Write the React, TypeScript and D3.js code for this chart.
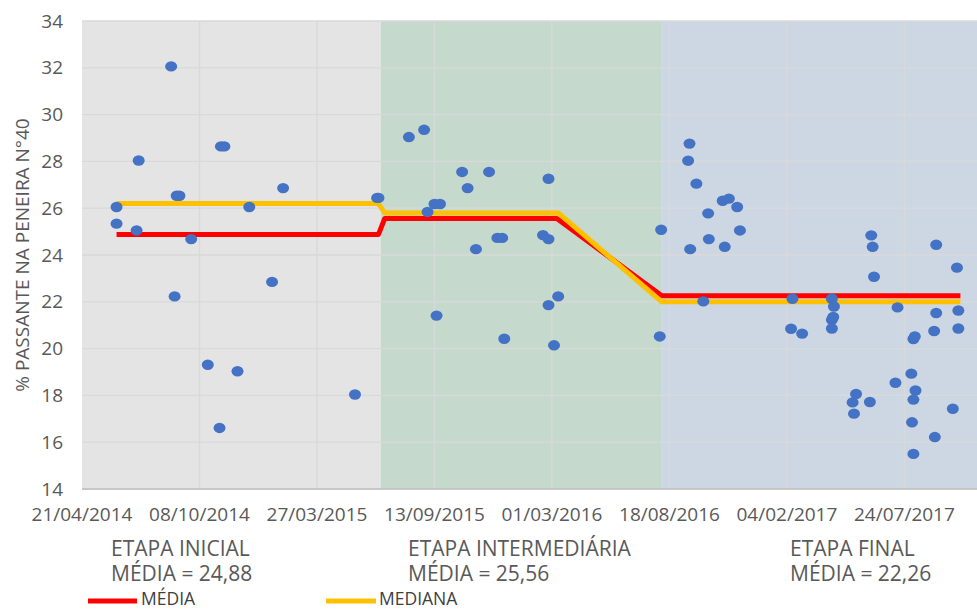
import * as d3 from 'd3';

// chart data
const tickLabels = ['21/04/2014', '08/10/2014', '27/03/2015', '13/09/2015', '01/03/2016', '18/08/2016', '04/02/2017', '24/07/2017'];
const yTicks = [14, 16, 18, 20, 22, 24, 26, 28, 30, 32, 34];

const pointDates = [
  '2014-06-10', '2014-06-10', '2014-07-09', '2014-07-12', '2014-08-28', '2014-09-02', '2014-09-05', '2014-09-09',
  '2014-09-26', '2014-10-20', '2014-11-06', '2014-11-08', '2014-11-13', '2014-12-02', '2014-12-19', '2015-01-21',
  '2015-02-06', '2015-05-21', '2015-06-22', '2015-06-24',
  '2015-08-07', '2015-08-29', '2015-09-03', '2015-09-13', '2015-09-16', '2015-09-21', '2015-10-23', '2015-10-31',
  '2015-11-12', '2015-12-01', '2015-12-13', '2015-12-20', '2015-12-23', '2016-02-17', '2016-02-25', '2016-02-25',
  '2016-02-25', '2016-03-04', '2016-03-10', '2016-08-04', '2016-08-06',
  '2016-09-14', '2016-09-16', '2016-09-17', '2016-09-26', '2016-10-06', '2016-10-13', '2016-10-14', '2016-11-03',
  '2016-11-06', '2016-11-12', '2016-11-24', '2016-11-28', '2017-02-10', '2017-02-12', '2017-02-26', '2017-04-10',
  '2017-04-10', '2017-04-10', '2017-04-12', '2017-04-13', '2017-05-10', '2017-05-12', '2017-05-15', '2017-06-04',
  '2017-06-06', '2017-06-08', '2017-06-10', '2017-07-11', '2017-07-14', '2017-08-03', '2017-08-04', '2017-08-06',
  '2017-08-06', '2017-08-06', '2017-08-08', '2017-08-09', '2017-09-05', '2017-09-06', '2017-09-08', '2017-09-08',
  '2017-10-02', '2017-10-08', '2017-10-10', '2017-10-10',
];
const pointValues = [
  26.05, 25.34, 25.05, 28.04, 32.06, 22.23, 26.53, 26.53,
  24.68, 19.31, 16.61, 28.64, 28.64, 19.03, 26.05, 22.85,
  26.86, 18.04, 26.44, 26.44,
  29.04, 29.35, 25.84, 26.18, 21.41, 26.18, 27.55, 26.86,
  24.25, 27.55, 24.73, 24.73, 20.42, 24.85, 27.26, 24.68,
  21.86, 20.14, 22.23, 20.52, 25.08,
  28.03, 28.76, 24.25, 27.05, 22.02, 25.78, 24.68, 26.32,
  24.35, 26.41, 26.05, 25.05, 20.85, 22.13, 20.64, 22.13,
  21.23, 20.86, 21.35, 21.8, 17.7, 17.22, 18.06, 17.72,
  24.84, 24.35, 23.07, 18.54, 21.76, 18.93, 16.85, 17.82,
  15.5, 20.41, 20.52, 18.21, 20.75, 16.22, 21.52, 24.44,
  17.43, 23.46, 21.63, 20.86,
];

const mediaDates = ['2014-06-10', '2015-06-24', '2015-07-03', '2016-03-08', '2016-08-07', '2017-10-13'];
const mediaValues = [24.88, 24.88, 25.56, 25.56, 22.26, 22.26];
const medianaDates = ['2014-06-10', '2015-06-24', '2015-07-03', '2016-03-10', '2016-08-07', '2017-10-13'];
const medianaValues = [26.2, 26.2, 25.8, 25.8, 22.0, 22.0];

const stageStarts = ['2014-04-21', '2015-06-27', '2016-08-07'];
const stageEnd = '2017-11-06';
const stageColors = ['#e4e4e4', '#c5d9cd', '#cdd7e3'];
const stageNames = ['ETAPA INICIAL', 'ETAPA INTERMEDIÁRIA', 'ETAPA FINAL'];
const stageMeans = ['24,88', '25,56', '22,26'];
const stageLabelX = [111, 408, 790];

const width = 977;
const height = 610;
const margin = { top: 21, right: 0, bottom: 121, left: 82 };
const font = '"Open Sans", "Noto Sans", sans-serif';

const iso = d3.utcParse('%Y-%m-%d');
const dmy = d3.utcParse('%d/%m/%Y');

function App() {
  const x = d3.scaleUtc()
    .domain([iso('2014-04-21') as Date, iso(stageEnd) as Date])
    .range([margin.left, width - margin.right]);
  const y = d3.scaleLinear()
    .domain([14, 34])
    .range([height - margin.bottom, margin.top]);

  const points = pointDates.map((d, i) => ({ date: iso(d) as Date, value: pointValues[i] }));
  const media = mediaDates.map((d, i) => ({ date: iso(d) as Date, value: mediaValues[i] }));
  const mediana = medianaDates.map((d, i) => ({ date: iso(d) as Date, value: medianaValues[i] }));

  const line = d3.line<{ date: Date; value: number }>()
    .x(d => x(d.date))
    .y(d => y(d.value));

  const bounds = [...stageStarts, stageEnd].map(d => iso(d) as Date);
  const top = y(34);
  const bottom = y(14);

  return (
    <svg width={width} height={height} style={{ position: 'absolute', left: 0, top: 0, fontFamily: font }}>
      <rect width={width} height={height} fill='#ffffff' />
      {stageStarts.map((s, i) => (
        <rect
          key={s}
          x={x(bounds[i])}
          y={top}
          width={x(bounds[i + 1]) - x(bounds[i])}
          height={bottom - top}
          fill={stageColors[i]}
        />
      ))}
      {yTicks.map(t => (
        <g key={t}>
          <line x1={margin.left} x2={width} y1={y(t)} y2={y(t)} stroke='#d9d9d9' strokeWidth={1.3} />
          <text x={63} y={y(t)} dy='.35em' textAnchor='end' fontSize={19} fill='#595959'>{t}</text>
        </g>
      ))}
      {tickLabels.map(t => {
        const tx = x(dmy(t) as Date);
        return (
          <g key={t}>
            {tx > margin.left + 1 && (
              <line x1={tx} x2={tx} y1={top} y2={bottom} stroke='#d9d9d9' strokeWidth={1.3} />
            )}
            <text x={tx} y={520.5} textAnchor='middle' fontSize={19} fill='#595959'>{t}</text>
          </g>
        );
      })}
      <line x1={margin.left} x2={width} y1={bottom} y2={bottom} stroke='#bfbfbf' strokeWidth={1.5} />

      <path d={line(media) || ''} fill='none' stroke='#ff0000' strokeWidth={5} strokeLinejoin='round' />
      <path d={line(mediana) || ''} fill='none' stroke='#ffc000' strokeWidth={5} strokeLinejoin='round' />

      {points.map((p, i) => (
        <ellipse key={i} cx={x(p.date)} cy={y(p.value)} rx={6} ry={5.2} fill='#4472c4' />
      ))}

      <text
        transform={`translate(22, ${(top + bottom) / 2}) rotate(-90)`}
        textAnchor='middle'
        dy='.35em'
        fontSize={19}
        fill='#595959'
      >
        % PASSANTE NA PENEIRA N°40
      </text>

      {stageNames.map((n, i) => (
        <g key={n}>
          <text x={stageLabelX[i]} y={556} fontSize={21} fill='#595959'>{n}</text>
          <text x={stageLabelX[i]} y={581} fontSize={21} fill='#595959'>{`MÉDIA = ${stageMeans[i]}`}</text>
        </g>
      ))}

      <line x1={88} x2={137} y1={601} y2={601} stroke='#ff0000' strokeWidth={5} />
      <text x={141} y={605} fontSize={17.5} fill='#404040'>MÉDIA</text>
      <line x1={326} x2={376} y1={601} y2={601} stroke='#ffc000' strokeWidth={5} />
      <text x={379} y={605} fontSize={17.5} fill='#404040'>MEDIANA</text>
    </svg>
  );
}

export default App;
